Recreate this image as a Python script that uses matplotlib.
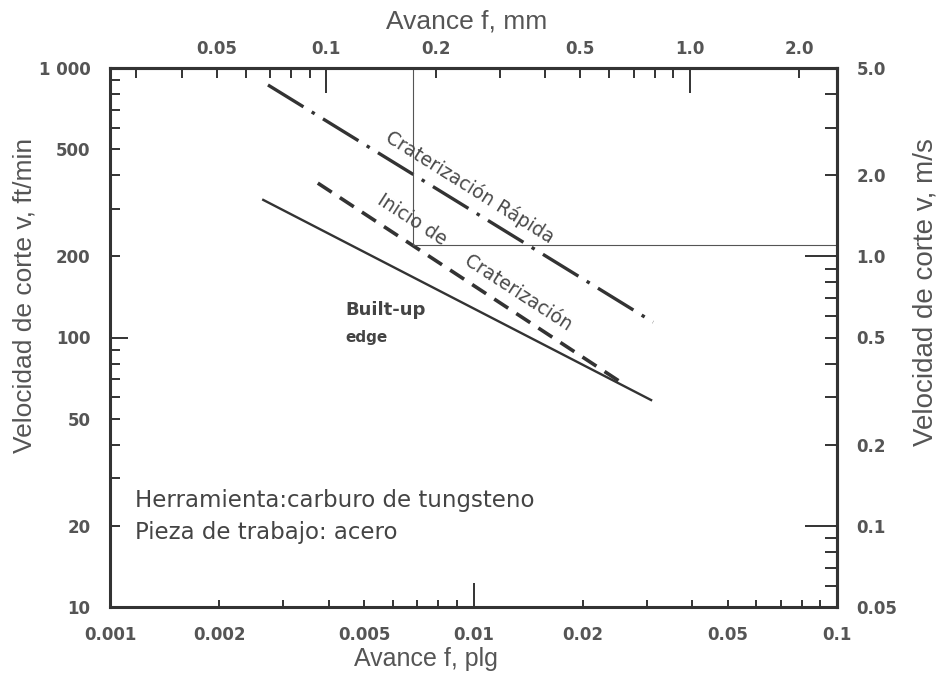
import math
import matplotlib
matplotlib.use("Agg")
import matplotlib.pyplot as plt
from matplotlib.ticker import FixedLocator, FuncFormatter

# feed f (in) vs cutting speed v (ft/min); each boundary is a straight line on log-log
rapid_f = [0.00272, 0.0312]
rapid_v = [865, 114]
onset_f = [0.00373, 0.0261]
onset_v = [374, 66.7]
bue_f = [0.00264, 0.0308]
bue_v = [324, 58.6]

# thin guide lines (vertical + horizontal)
guide_f = 0.0068
guide_v = 221

f_labels = {0.001: "0.001", 0.002: "0.002", 0.005: "0.005", 0.01: "0.01",
            0.02: "0.02", 0.05: "0.05", 0.1: "0.1"}
v_labels = {10: "10", 20: "20", 50: "50", 100: "100", 200: "200",
            500: "500", 1000: "1 000"}
mm_labels = {0.05: "0.05", 0.1: "0.1", 0.2: "0.2", 0.5: "0.5",
             1.0: "1.0", 2.0: "2.0"}
ms_labels = {0.05: "0.05", 0.1: "0.1", 0.2: "0.2", 0.5: "0.5",
             1.0: "1.0", 2.0: "2.0", 5.0: "5.0"}

IN_TO_MM = 25.4
FTMIN_TO_MS = 0.005

plt.rcParams['font.family'] = ['DejaVu Sans']
plt.rcParams['font.weight'] = 'bold'
plt.rcParams['lines.scale_dashes'] = False

ink = '#333333'
txt = '#555555'


def label_of(labels):
    def fmt(v, pos):
        for k, s in labels.items():
            if math.isclose(k, v, rel_tol=1e-6):
                return s
        return ""
    return FuncFormatter(fmt)


def log_ticks(axis, lo, hi, labels):
    major = [10.0 ** e for e in range(-4, 4) if lo * 0.999 <= 10.0 ** e <= hi * 1.001]
    minor = [m * 10.0 ** e for e in range(-4, 4) for m in range(2, 10)]
    minor = [t for t in minor if lo * 0.999 <= t <= hi * 1.001]
    axis.set_major_locator(FixedLocator(major))
    axis.set_minor_locator(FixedLocator(minor))
    axis.set_major_formatter(label_of(labels))
    axis.set_minor_formatter(label_of(labels))


fig = plt.figure(figsize=(9.39, 6.74), dpi=100)
ax = fig.add_axes([110 / 939, 1 - 607 / 674, 727 / 939, 539 / 674])
ax.set_xscale('log')
ax.set_yscale('log')
ax.set_xlim(0.001, 0.1)
ax.set_ylim(10, 1000)

ax.plot(rapid_f, rapid_v, color=ink, lw=2.4, dashes=(30, 7, 2.5, 7))
ax.plot(onset_f, onset_v, color=ink, lw=2.6, dashes=(12, 7))
ax.plot(bue_f, bue_v, color=ink, lw=1.7)

ax.plot([guide_f, guide_f], [guide_v, 1000], color='#555555', lw=0.8)
ax.plot([guide_f, 0.1], [guide_v, guide_v], color='#555555', lw=0.8)

log_ticks(ax.xaxis, 0.001, 0.1, f_labels)
log_ticks(ax.yaxis, 10, 1000, v_labels)
ax.tick_params(axis='both', which='both', direction='in', width=1.4,
               color=ink, labelsize=12, labelcolor=txt, pad=14)
ax.tick_params(axis='x', which='major', length=17)
ax.tick_params(axis='x', which='minor', length=5)
ax.tick_params(axis='y', which='major', length=13)
ax.tick_params(axis='y', which='minor', length=7)

top = ax.secondary_xaxis('top', functions=(lambda x: x * IN_TO_MM, lambda x: x / IN_TO_MM))
log_ticks(top.xaxis, 0.001 * IN_TO_MM, 0.1 * IN_TO_MM, mm_labels)
top.tick_params(axis='x', which='both', direction='in', width=1.4, color=ink,
                labelsize=12, labelcolor=txt, pad=7)
top.tick_params(axis='x', which='major', length=18)
top.tick_params(axis='x', which='minor', length=7)

right = ax.secondary_yaxis('right', functions=(lambda v: v * FTMIN_TO_MS, lambda v: v / FTMIN_TO_MS))
log_ticks(right.yaxis, 10 * FTMIN_TO_MS, 1000 * FTMIN_TO_MS, ms_labels)
right.tick_params(axis='y', which='both', direction='in', width=1.4, color=ink,
                  labelsize=12, labelcolor=txt, pad=14)
right.tick_params(axis='y', which='major', length=23)
right.tick_params(axis='y', which='minor', length=9)

for a in (ax, top, right):
    for sp in a.spines.values():
        sp.set_linewidth(2.2)
        sp.set_color(ink)

# axis titles
lab = dict(family='Liberation Sans', fontweight='normal', color='#555555')
fig.text(25 / 939, 1 - 295 / 674, "Velocidad de corte v, ft/min", rotation=90,
         ha='center', va='center', fontsize=19, **lab)
fig.text(925 / 939, 1 - 292 / 674, "Velocidad de corte v, m/s", rotation=90,
         ha='center', va='center', fontsize=20, **lab)
fig.text(467 / 939, 1 - 22 / 674, "Avance f, mm", ha='center', va='center',
         fontsize=19, **lab)
fig.text(426 / 939, 1 - 659 / 674, "Avance f, plg", ha='center', va='center',
         fontsize=18, **lab)

# curve annotations
note = dict(fontweight='normal', color='#4a4a4a', fontsize=13.5,
            ha='center', va='center', rotation_mode='anchor')
ax.text(0.00978, 362, "Craterización Rápida", rotation=-32, **note)
ax.text(0.00678, 273, "Inicio de", rotation=-33, **note)
ax.text(0.01326, 146, "Craterización", rotation=-33, **note)

ax.text(0.00443, 126.5, "Built-up", fontsize=13, fontweight='bold',
        color='#444444', ha='left', va='center')
ax.text(0.00443, 100.4, "edge", fontsize=11, fontweight='bold',
        color='#444444', ha='left', va='center')

info = dict(fontweight='normal', color='#444444', fontsize=16.5, ha='left', va='center')
ax.text(0.001 * 10 ** (25 / 363.5), 10 ** (3 - (501 - 68) / 269.5),
        "Herramienta:carburo de tungsteno", **info)
ax.text(0.001 * 10 ** (25 / 363.5), 10 ** (3 - (533 - 68) / 269.5),
        "Pieza de trabajo: acero", **info)

fig.savefig("out.png", dpi=100, facecolor='white')
